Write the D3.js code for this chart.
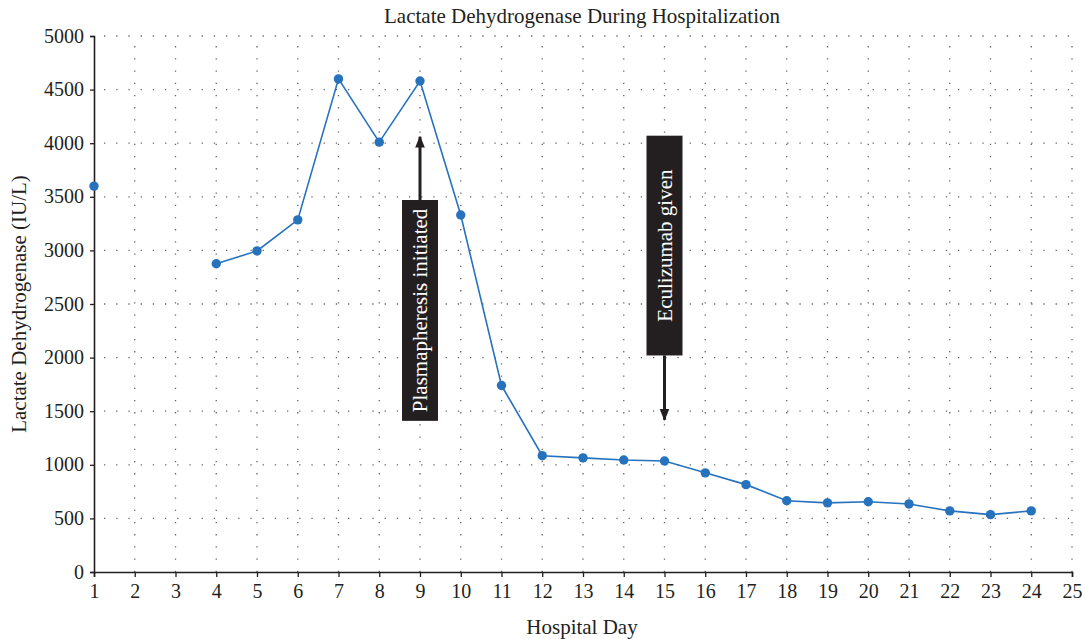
<!DOCTYPE html>
<html><head><meta charset="utf-8">
<script src="https://cdn.jsdelivr.net/npm/d3@7"></script>
<style>
body{margin:0;background:#fff;}
text{font-family:"Liberation Serif","DejaVu Serif",serif;fill:#231f20;}
</style></head>
<body><svg id="c" width="1085" height="639"></svg>
<script>
const days = [1, 4, 5, 6, 7, 8, 9, 10, 11, 12, 13, 14, 15, 16, 17, 18, 19, 20, 21, 22, 23, 24];
const ldh = [3600, 2875, 2995, 3285, 4600, 4010, 4580, 3330, 1740, 1085, 1065, 1045, 1035, 925, 815, 665, 645, 655, 635, 570, 535, 570];
const xTicks = d3.range(1, 26);
const yTicks = [0, 500, 1000, 1500, 2000, 2500, 3000, 3500, 4000, 4500, 5000];
const annotations = [
  {label: "Plasmapheresis initiated", day: 9, boxFrom: 1410, boxTo: 3470, arrowTo: 4060},
  {label: "Eculizumab given", day: 15, boxFrom: 2020, boxTo: 4070, arrowTo: 1420}
];
const title = "Lactate Dehydrogenase During Hospitalization";
const xLabel = "Hospital Day";
const yLabel = "Lactate Dehydrogenase (IU/L)";

const svg = d3.select("#c");
const L = 94, R = 1072, T = 36, B = 572;
const x = d3.scaleLinear().domain([1, 25]).range([L, R]);
const y = d3.scaleLinear().domain([0, 5000]).range([B, T]);
const ink = "#231f20", blue = "#2672bd";

// grid
const g = svg.append("g");
g.selectAll("line.v").data(xTicks.slice(1)).join("line")
  .attr("x1", d => x(d)).attr("x2", d => x(d)).attr("y1", B).attr("y2", T)
  .attr("stroke", "#666").attr("stroke-width", 1.3).attr("stroke-dasharray", "1.3,10.9");
g.selectAll("line.h").data(yTicks.slice(1)).join("line")
  .attr("x1", L).attr("x2", R).attr("y1", d => y(d)).attr("y2", d => y(d))
  .attr("stroke", "#666").attr("stroke-width", 1.3).attr("stroke-dasharray", "1.3,10.9")
  .attr("stroke-dashoffset", -10);

// axes
const xa = svg.append("g").attr("transform", `translate(0,${B})`)
  .call(d3.axisBottom(x).tickValues(xTicks).tickSize(5).tickPadding(7).tickFormat(d3.format("d")));
const ya = svg.append("g").attr("transform", `translate(${L},0)`)
  .call(d3.axisLeft(y).tickValues(yTicks).tickSize(4).tickPadding(6).tickFormat(d3.format("d")));
[xa, ya].forEach(a => {
  a.select(".domain").attr("stroke", ink).attr("stroke-width", 1.6);
  a.selectAll(".tick line").attr("stroke", ink).attr("stroke-width", 1.3);
  a.selectAll("text").style("font-family", '"Liberation Serif",serif').attr("font-size", 20).attr("fill", ink);
});
ya.selectAll(".tick text").attr("dy", "0.3em");

// line (gap between day 1 and day 4)
const pts = days.map((d, i) => ({d, v: ldh[i]}));
const line = d3.line().x(p => x(p.d)).y(p => y(p.v));
svg.append("path").datum(pts.filter(p => p.d >= 4)).attr("d", line)
  .attr("fill", "none").attr("stroke", blue).attr("stroke-width", 1.6);
svg.selectAll("circle.pt").data(pts).join("circle")
  .attr("cx", p => x(p.d)).attr("cy", p => y(p.v)).attr("r", 4.7).attr("fill", blue);

// annotations
const defs = svg.append("defs");
defs.append("marker").attr("id", "ah").attr("viewBox", "0 0 10 10").attr("refX", 9).attr("refY", 5)
  .attr("markerWidth", 4).attr("markerHeight", 4).attr("markerUnits", "strokeWidth").attr("orient", "auto")
  .append("path").attr("d", "M0,1 L10,5 L0,9 Z").attr("fill", ink);
annotations.forEach(a => {
  const cx = x(a.day);
  const top = y(a.boxTo), bot = y(a.boxFrom);
  const startY = a.arrowTo > a.boxTo ? top : bot;
  svg.append("line").attr("x1", cx).attr("x2", cx).attr("y1", startY).attr("y2", y(a.arrowTo))
    .attr("stroke", ink).attr("stroke-width", 3).attr("marker-end", "url(#ah)");
  svg.append("rect").attr("x", cx - 18).attr("y", top).attr("width", 36).attr("height", bot - top).attr("fill", ink);
  svg.append("text").attr("transform", `translate(${cx + 7},${(top + bot) / 2}) rotate(-90)`)
    .attr("text-anchor", "middle").attr("font-size", 21).style("fill", "#fff").text(a.label);
});

// titles
svg.append("text").attr("x", 582).attr("y", 23).attr("text-anchor", "middle").attr("font-size", 21).text(title);
svg.append("text").attr("x", 582).attr("y", 634).attr("text-anchor", "middle").attr("font-size", 21).text(xLabel);
svg.append("text").attr("transform", "translate(26,304) rotate(-90)").attr("text-anchor", "middle").attr("font-size", 21).text(yLabel);
</script></body></html>
